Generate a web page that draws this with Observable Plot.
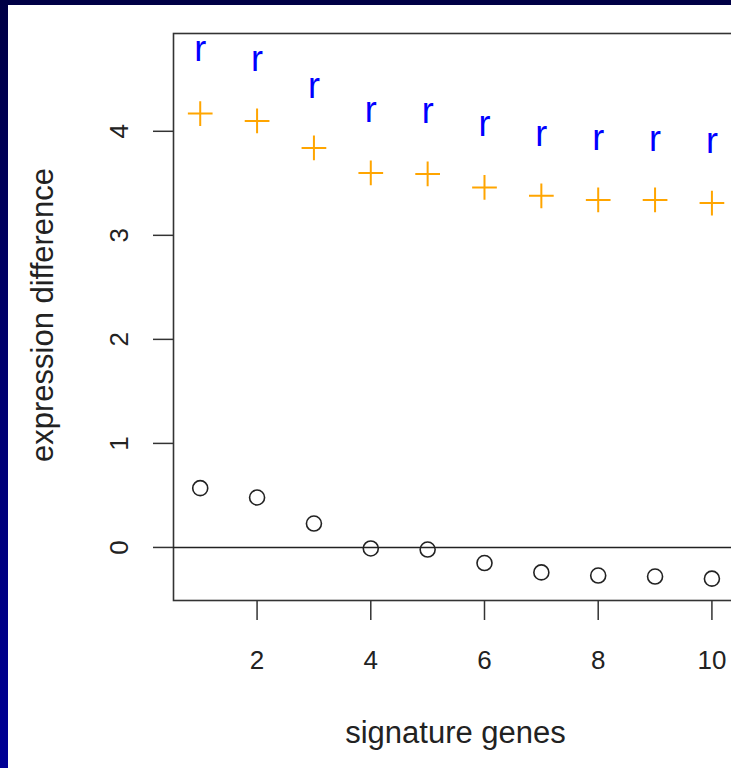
<!DOCTYPE html>
<html>
<head>
<meta charset="utf-8">
<script src="https://cdn.jsdelivr.net/npm/d3@7"></script>
<script src="https://cdn.jsdelivr.net/npm/@observablehq/plot@0.6"></script>
<style>
  html, body { margin: 0; padding: 0; width: 731px; height: 768px; overflow: hidden; }
  body { background: linear-gradient(to bottom, #000045 0%, #000070 50%, #000095 100%); position: relative; }
  #panel { position: absolute; left: 8px; top: 5px; right: 0; bottom: 0; background: #ffffff; }
  #chart { position: absolute; left: 0; top: 0; width: 731px; height: 768px; overflow: hidden; }
</style>
</head>
<body>
<div id="panel"></div>
<div id="chart"></div>
<script>
const genes = [1, 2, 3, 4, 5, 6, 7, 8, 9, 10];
const rValues = [4.77, 4.67, 4.41, 4.18, 4.17, 4.05, 3.95, 3.91, 3.90, 3.88];
const plusValues = [4.17, 4.10, 3.84, 3.60, 3.59, 3.46, 3.38, 3.34, 3.34, 3.31];
const circleValues = [0.57, 0.48, 0.23, -0.01, -0.02, -0.15, -0.24, -0.27, -0.28, -0.30];
const xTicks = [2, 4, 6, 8, 10];
const yTicks = [0, 1, 2, 3, 4];
const xTitle = "signature genes";
const yTitle = "expression difference";

const rows = genes.map((g, i) => ({gene: g, r: rValues[i], plus: plusValues[i], circle: circleValues[i]}));

const chart = Plot.plot({
  width: 745,
  height: 768,
  marginLeft: 173,
  marginTop: 33,
  marginBottom: 168,
  marginRight: 8,
  style: {background: "transparent", maxWidth: "none", overflow: "visible", color: "#222", fontFamily: "'Liberation Sans', Arial, sans-serif"},
  x: {domain: [0.53, 10.45]},
  y: {domain: [-0.51, 4.94]},
  marks: [
    Plot.frame({stroke: "#333", strokeWidth: 1.6}),
    Plot.ruleY([0], {stroke: "#222", strokeWidth: 1.5}),
    Plot.axisX(xTicks, {tickSize: 20, tickPadding: 30, fontSize: 26, tickFormat: "d", label: null, stroke: "#333", strokeWidth: 1.5}),
    Plot.axisY(yTicks, {tickSize: 20, tickPadding: 26, tickRotate: -90, fontSize: 26, tickFormat: "d", label: null, stroke: "#333", strokeWidth: 1.5}),
    Plot.text([xTitle], {frameAnchor: "bottom", dy: 142, fontSize: 31, fill: "#222"}),
    Plot.text([yTitle], {frameAnchor: "left", textAnchor: "middle", dx: -130, dy: -2, rotate: -90, fontSize: 31, fill: "#222"}),
    Plot.dot(rows, {x: "gene", y: "circle", symbol: "circle", r: 7.5, stroke: "#222", strokeWidth: 1.6, fill: "none"}),
    Plot.dot(rows, {x: "gene", y: "plus", symbol: "plus", r: 8, stroke: "#FFA500", strokeWidth: 2}),
    Plot.text(rows, {x: "gene", y: "r", text: () => "r", fill: "#0000FF", fontSize: 36, dy: -2})
  ]
});
document.getElementById("chart").appendChild(chart);
</script>
</body>
</html>
